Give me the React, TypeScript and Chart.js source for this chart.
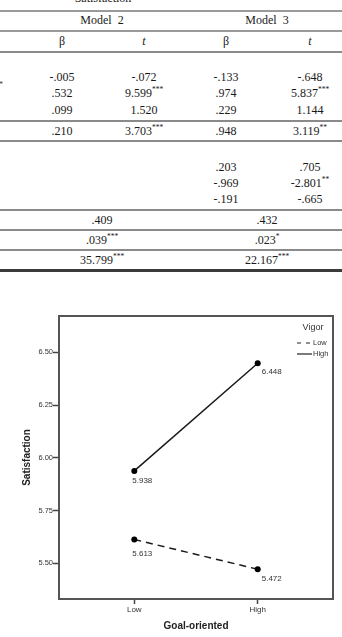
import React, { useEffect, useRef } from "react";
import { Chart, registerables } from "chart.js";

Chart.register(...registerables);

// ---------- chart data ----------
const categories = ["Low", "High"];
const seriesNames = ["Low", "High"];
const lowVigor = [5.613, 5.472];
const highVigor = [5.938, 6.448];
const yTicks = [5.5, 5.75, 6.0, 6.25, 6.5];
const legendTitle = "Vigor";
const xTitle = "Goal-oriented";
const yTitle = "Satisfaction";

// ---------- table data ----------
const m2Beta = ["-.005", ".532", ".099", ".210", "", "", ""];
const m2T = ["-.072", "9.599***", "1.520", "3.703***", "", "", ""];
const m3Beta = ["-.133", ".974", ".229", ".948", ".203", "-.969", "-.191"];
const m3T = ["-.648", "5.837***", "1.144", "3.119**", ".705", "-2.801**", "-.665"];
const rSquared = [".409", ".432"];
const deltaR2 = [".039***", ".023*"];
const fValues = ["35.799***", "22.167***"];

// layout (positions only)
const rowY = [77, 93, 110, 131, 167, 183, 199];
const colX = [62, 144, 226, 310];
const modelX = [102, 267];
const summaryY = [220, 240, 260];
const ruleLines = [
  { y: 10, h: 1.5, c: "#9a9a9a" },
  { y: 30, h: 1.5, c: "#9a9a9a" },
  { y: 51, h: 2, c: "#8a8a8a" },
  { y: 120, h: 2, c: "#8a8a8a" },
  { y: 140, h: 2, c: "#8a8a8a" },
  { y: 209, h: 2, c: "#8a8a8a" },
  { y: 229, h: 2, c: "#8a8a8a" },
  { y: 249, h: 2, c: "#8a8a8a" },
  { y: 269, h: 3, c: "#3a3a3a" },
];
const labelOffsets = [
  [[-2, 14], [4, 10]],
  [[-2, 10], [4, 9]],
];

const SERIF = "'Liberation Serif', 'Times New Roman', serif";
const SANS = "'Liberation Sans', Arial, sans-serif";

function Cell({ text, cx, cy, italic }: { text: string; cx: number; cy: number; italic?: boolean }) {
  const m = text.match(/^([^*]*)(\**)$/);
  const main = m ? m[1] : text;
  const stars = m ? m[2] : "";
  return (
    <div
      style={{
        position: "absolute",
        left: cx - 60,
        width: 120,
        top: cy - 8,
        height: 16,
        lineHeight: "16px",
        textAlign: "center",
        fontFamily: SERIF,
        fontSize: 12,
        color: "#1a1a1a",
        fontStyle: italic ? "italic" : "normal",
        whiteSpace: "pre",
      }}
    >
      {main}
      {stars ? (
        <span style={{ fontSize: 7.5, position: "relative", top: -5 }}>{stars}</span>
      ) : null}
    </div>
  );
}

export default function App() {
  const canvasRef = useRef<HTMLCanvasElement | null>(null);

  useEffect(() => {
    if (!canvasRef.current) return;
    Chart.defaults.font.family = SANS;

    const framePlugin = {
      id: "frameAndLabels",
      afterDraw(chart: any) {
        const { ctx, chartArea: a } = chart;
        ctx.save();
        ctx.strokeStyle = "#555";
        ctx.lineWidth = 2;
        ctx.setLineDash([]);
        ctx.strokeRect(a.left, a.top, a.right - a.left, a.bottom - a.top);

        // value labels
        ctx.font = `8px ${SANS}`;
        ctx.fillStyle = "#333";
        ctx.textBaseline = "middle";
        ctx.textAlign = "left";
        chart.data.datasets.forEach((ds: any, di: number) => {
          const meta = chart.getDatasetMeta(di);
          meta.data.forEach((pt: any, i: number) => {
            const v = ds.data[i].y;
            const off = labelOffsets[di][i];
            ctx.fillText(v.toFixed(3), pt.x + off[0], pt.y + off[1]);
          });
        });

        // legend
        const tx = a.right - 20;
        ctx.textAlign = "center";
        ctx.font = `9px ${SANS}`;
        ctx.fillStyle = "#333";
        ctx.fillText(legendTitle, tx, a.top + 12);
        ctx.font = `7.5px ${SANS}`;
        chart.data.datasets.forEach((ds: any, di: number) => {
          const y = a.top + 27 + di * 11;
          ctx.strokeStyle = "#222";
          ctx.lineWidth = 1.2;
          ctx.setLineDash(ds.borderDash && ds.borderDash.length ? [4, 5] : []);
          ctx.beginPath();
          ctx.moveTo(a.right - 36, y);
          ctx.lineTo(a.right - 21, y);
          ctx.stroke();
          ctx.setLineDash([]);
          ctx.textAlign = "left";
          ctx.fillText(seriesNames[di], tx, y);
        });
        ctx.restore();
      },
    };

    const chart = new Chart(canvasRef.current, {
      type: "line",
      data: {
        datasets: [
          {
            label: seriesNames[0],
            data: lowVigor.map((v, i) => ({ x: i, y: v })),
            borderColor: "#1a1a1a",
            borderWidth: 1.5,
            borderDash: [7, 5],
            pointRadius: 3,
            pointBackgroundColor: "#000",
            pointBorderColor: "#000",
            pointBorderWidth: 0,
            fill: false,
          },
          {
            label: seriesNames[1],
            data: highVigor.map((v, i) => ({ x: i, y: v })),
            borderColor: "#1a1a1a",
            borderWidth: 1.5,
            pointRadius: 3,
            pointBackgroundColor: "#000",
            pointBorderColor: "#000",
            pointBorderWidth: 0,
            fill: false,
          },
        ],
      },
      options: {
        animation: false,
        responsive: false,
        layout: { padding: { top: 16, right: 9, left: 0, bottom: 0 } },
        plugins: { legend: { display: false }, tooltip: { enabled: false } },
        scales: {
          x: {
            type: "linear",
            min: -0.61,
            max: 1.61,
            afterBuildTicks: (s: any) => {
              s.ticks = categories.map((_, i) => ({ value: i }));
            },
            afterFit: (s: any) => {
              s.height = 38;
            },
            ticks: {
              callback: (v: any) => categories[Number(v)] ?? "",
              font: { size: 8, family: SANS },
              color: "#333",
              padding: 1,
              maxRotation: 0,
              autoSkip: false,
            },
            grid: {
              drawOnChartArea: false,
              drawTicks: true,
              tickLength: 5,
              tickColor: "#444",
              tickWidth: 1.5,
            },
            border: { display: false },
            title: {
              display: true,
              text: xTitle,
              font: { size: 10, weight: "bold", family: SANS },
              color: "#222",
              padding: { top: 0, bottom: 5 },
            },
          },
          y: {
            type: "linear",
            min: 5.331,
            max: 6.672,
            afterBuildTicks: (s: any) => {
              s.ticks = yTicks.map((v) => ({ value: v }));
            },
            afterFit: (s: any) => {
              s.width = 59;
            },
            ticks: {
              callback: (v: any) => Number(v).toFixed(2),
              font: { size: 7.5, family: SANS },
              color: "#333",
              padding: 0,
              autoSkip: false,
            },
            grid: {
              drawOnChartArea: false,
              drawTicks: true,
              tickLength: 6,
              tickColor: "#444",
              tickWidth: 1.5,
            },
            border: { display: false },
            title: {
              display: true,
              text: yTitle,
              font: { size: 10, weight: "bold", family: SANS },
              color: "#222",
              padding: { top: 21, bottom: 0 },
            },
          },
        },
      } as any,
      plugins: [framePlugin],
    });
    return () => chart.destroy();
  }, []);

  return (
    <div
      style={{
        position: "absolute",
        left: 0,
        top: 0,
        width: 342,
        height: 637,
        overflow: "hidden",
        background: "#fff",
      }}
    >
      {/* table */}
      <Cell text="Satisfaction" cx={103} cy={-2} />
      <div style={{ position: "absolute", left: -1, top: 80, fontFamily: SERIF, fontSize: 8, color: "#333" }}>*</div>
      {ruleLines.map((l, i) => (
        <div
          key={i}
          style={{ position: "absolute", left: 0, width: 342, top: l.y, height: l.h, background: l.c }}
        />
      ))}
      <Cell text="Model  2" cx={modelX[0]} cy={20} />
      <Cell text="Model  3" cx={modelX[1]} cy={20} />
      <Cell text="β" cx={colX[0]} cy={41} />
      <Cell text="t" cx={colX[1]} cy={41} italic />
      <Cell text="β" cx={colX[2]} cy={41} />
      <Cell text="t" cx={colX[3]} cy={41} italic />
      {rowY.map((y, i) => (
        <React.Fragment key={i}>
          {m2Beta[i] ? <Cell text={m2Beta[i]} cx={colX[0]} cy={y} /> : null}
          {m2T[i] ? <Cell text={m2T[i]} cx={colX[1]} cy={y} /> : null}
          {m3Beta[i] ? <Cell text={m3Beta[i]} cx={colX[2]} cy={y} /> : null}
          {m3T[i] ? <Cell text={m3T[i]} cx={colX[3]} cy={y} /> : null}
        </React.Fragment>
      ))}
      {[rSquared, deltaR2, fValues].map((row, r) => (
        <React.Fragment key={"s" + r}>
          <Cell text={row[0]} cx={modelX[0]} cy={summaryY[r]} />
          <Cell text={row[1]} cx={modelX[1]} cy={summaryY[r]} />
        </React.Fragment>
      ))}

      {/* chart */}
      <canvas
        ref={canvasRef}
        width={342}
        height={337}
        style={{ position: "absolute", left: 0, top: 300, width: 342, height: 337 }}
      />
    </div>
  );
}
